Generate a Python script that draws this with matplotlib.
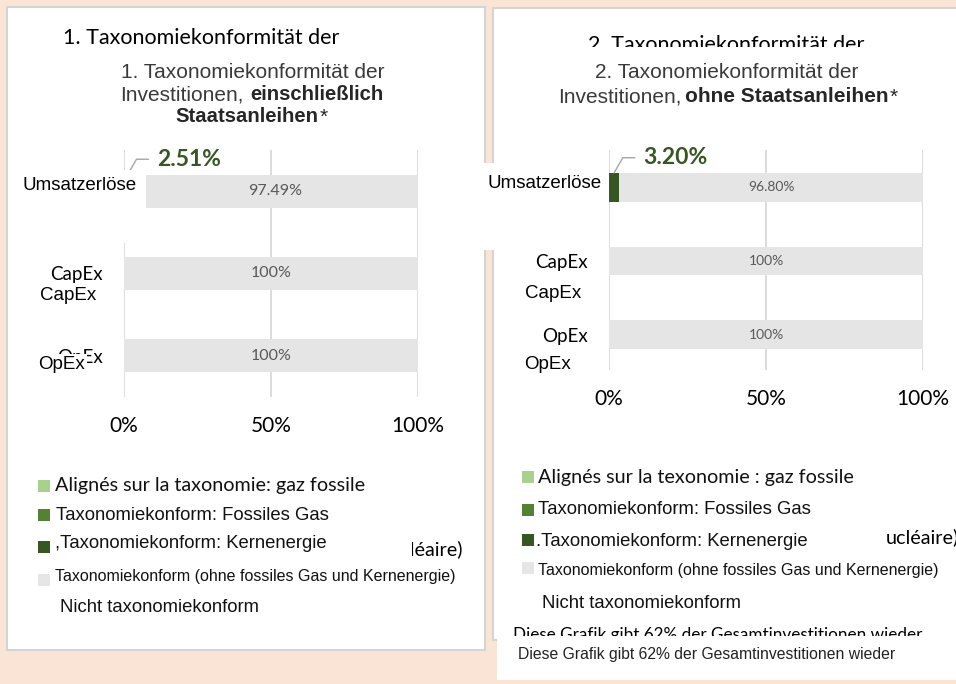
import matplotlib
matplotlib.use('Agg')
import matplotlib.pyplot as plt
from matplotlib.patches import Rectangle
from matplotlib.text import Annotation
from matplotlib.transforms import Bbox, TransformedBbox

W, H = 956, 684

# ---- data ----
categories = ['Umsatzerlöse', 'CapEx', 'OpEx']
nuclear_incl = [2.51, 0, 0]        # chart 1: einschließlich Staatsanleihen
other_incl = [97.49, 100, 100]
nuclear_excl = [3.20, 0, 0]        # chart 2: ohne Staatsanleihen
other_excl = [96.80, 100, 100]
x_ticks = [0, 50, 100]
x_tick_labels = ['0%', '50%', '100%']

legend_colors = ['#A9D18E', '#548235', '#375623', '#E7E6E6']
legend_left = ['Alignés sur la taxonomie: gaz fossile',
               'Taxonomiekonform: Fossiles Gas',
               ',Taxonomiekonform: Kernenergie',
               'Taxonomiekonform (ohne fossiles Gas und Kernenergie)',
               'Nicht taxonomiekonform']
legend_right = ['Alignés sur la texonomie : gaz fossile',
                'Taxonomiekonform: Fossiles Gas',
                '.Taxonomiekonform: Kernenergie',
                'Taxonomiekonform (ohne fossiles Gas und Kernenergie)',
                'Nicht taxonomiekonform']
footnote = 'Diese Grafik gibt 62% der Gesamtinvestitionen wieder'

CAL = ['Lato', 'DejaVu Sans']
ARIAL = ['Liberation Sans', 'DejaVu Sans']
PEACH = '#FAE4D6'
BORDER = '#D4D4D4'
GRID = '#D9D9D9'
BAR_GREY = '#E5E5E5'
DARK_GREEN = '#375623'
TITLE_GREY = '#3A3A3A'

fig = plt.figure(figsize=(W / 100, H / 100), dpi=100)
fig.patch.set_facecolor(PEACH)


def frect(x0, y0, x1, y1, fc, ec='none', lw=0, z=-1):
    fig.add_artist(Rectangle((x0 / W, 1 - y1 / H), (x1 - x0) / W, (y1 - y0) / H,
                             transform=fig.transFigure, facecolor=fc,
                             edgecolor=ec, linewidth=lw, zorder=z))


def ftext(x, y, s, font, size, color='black', weight='normal', ha='left',
          va='center', clip=None, **kw):
    t = fig.text(x / W, 1 - y / H, s, fontfamily=font, fontsize=size,
                 color=color, fontweight=weight, ha=ha, va=va, **kw)
    if clip:
        x0, y0, x1, y1 = clip
        bb = Bbox.from_extents(x0 / W, 1 - y1 / H, x1 / W, 1 - y0 / H)
        t.set_clip_box(TransformedBbox(bb, fig.transFigure))
        t.set_clip_on(True)
    return t


def star_after(t, size):
    # regular-weight asterisk right after a bold text
    fig.add_artist(Annotation('*', xy=(1, 0.5), xycoords=t, xytext=(1, 0),
                              textcoords='offset points', ha='left', va='center',
                              fontfamily=ARIAL, fontsize=size, color='#262626'))


def fmt(v):
    return f'{v:.2f}%' if v % 1 else f'{v:.0f}%'


def draw_chart(box, nuclear, other, bar_h, ylim, val_size):
    x0, y0, x1, y1 = box
    ax = fig.add_axes([x0 / W, 1 - y1 / H, (x1 - x0) / W, (y1 - y0) / H])
    ax.patch.set_visible(False)
    ypos = list(range(len(categories)))
    ax.barh(ypos, nuclear, height=bar_h, color=DARK_GREEN)
    ax.barh(ypos, other, left=nuclear, height=bar_h, color=BAR_GREY)
    ax.set_xlim(0, 100)
    ax.set_ylim(*ylim)
    ax.set_xticks(x_ticks, x_tick_labels, fontfamily=CAL, fontsize=15)
    ax.set_yticks(ypos, categories, fontfamily=CAL, fontsize=13.5)
    # first label is hidden behind the Arial overlay in the original
    ax.get_yticklabels()[0].set_visible(False)
    ax.tick_params(axis='x', length=0, pad=14)
    ax.tick_params(axis='y', length=0, pad=15)
    ax.grid(axis='x', color=GRID, linewidth=1.3)
    ax.grid(axis='y', visible=False)
    ax.set_axisbelow(True)
    for s in ax.spines.values():
        s.set_visible(False)
    for i in ypos:
        ax.text(nuclear[i] + other[i] / 2, i, fmt(other[i]), ha='center',
                va='center', fontfamily=CAL, fontsize=val_size, color='#595959')
        if nuclear[i] > 0:
            ax.annotate(fmt(nuclear[i]), xy=(nuclear[i] / 2, i - bar_h / 2),
                        xytext=(21, 11), textcoords='offset points',
                        ha='left', va='center', fontfamily=CAL, fontsize=16.5,
                        fontweight='bold', color=DARK_GREEN,
                        arrowprops=dict(arrowstyle='-', color='#A6A6A6', lw=1,
                                        relpos=(0, 0.5), shrinkA=4, shrinkB=0,
                                        connectionstyle='angle,angleA=0,angleB=60,rad=0'))
    return ax


# ---- panels ----
frect(7, 7, 485, 650, 'white', BORDER, 1.5, z=-2)
frect(493, 8, 962, 640, 'white', BORDER, 1.5, z=-2)
frect(497, 600, 960, 680, 'white', z=-1)

# ---- charts ----
draw_chart((124, 150, 418, 397), nuclear_incl, other_incl, 0.4,
           (2.497, -0.497), 11.5)
draw_chart((609, 150, 923, 370), nuclear_excl, other_excl, 0.39,
           (2.48, -0.507), 10)

# white overlays hiding parts of the charts / panel borders
frect(18, 170, 146, 243, 'white', z=1)
frect(478, 163, 500, 250, 'white', z=1)

# ---- titles, chart 1 ----
TS = 15
TB = 14.6
ftext(63, 38, '1. Taxonomiekonformität der', CAL, 15.5)
ftext(253, 72, '1. Taxonomiekonformität der', ARIAL, TS, TITLE_GREY, ha='center')
ftext(244, 95, 'Investitionen,', ARIAL, TS, TITLE_GREY, ha='right')
ftext(250, 95, 'einschließlich', ARIAL, TB, '#262626', 'bold')
t = ftext(175, 117, 'Staatsanleihen', ARIAL, TB, '#262626', 'bold')
star_after(t, TS)

# ---- titles, chart 2 ----
ftext(588, 51, '2. Taxonomiekonformität der', CAL, 15.5, va='baseline',
      clip=(493, 0, 956, 47))
ftext(727, 72, '2. Taxonomiekonformität der', ARIAL, TS, TITLE_GREY, ha='center')
ftext(681, 97, 'Investitionen,', ARIAL, TS, TITLE_GREY, ha='right')
t = ftext(685, 97, 'ohne Staatsanleihen', ARIAL, TS, '#262626', 'bold')
star_after(t, TS)

# ---- duplicated category labels (Arial) ----
white_box = dict(facecolor='white', edgecolor='none', pad=1.5)
for cat, xr, yc in zip(categories, [137, 96, 85], [185, 295, 365]):
    ftext(xr, yc, cat, ARIAL, 13.5, ha='right', bbox=white_box)
for cat, xr, yc in zip(categories, [602, 581, 571], [183, 294, 365]):
    ftext(xr, yc, cat, ARIAL, 13.5, ha='right', bbox=white_box)

# ---- legends ----
fonts = [(CAL, 14.2), (ARIAL, 13.3), (ARIAL, 13.3), (ARIAL, 11.5), (ARIAL, 13.3)]

# left legend
sq_y = [486, 515, 547, 580]
txt_y = [485, 516, 544, 576, 607]
txt_x = [55, 56, 55, 55, 60]
for c, y in zip(legend_colors, sq_y):
    frect(38, y - 6, 50, y + 6, c, z=1)
for lab, (fnt, sz), x, y in zip(legend_left, fonts, txt_x, txt_y):
    ftext(x, y, lab, fnt, sz, '#111111')
ftext(463, 549, '(nucléaire)', CAL, 14.2, ha='right', clip=(412, 530, 470, 570))

# right legend
sq_y = [477, 510, 540, 568]
txt_y = [477, 510, 541, 570, 603]
txt_x = [538, 538, 536, 538, 542]
for c, y in zip(legend_colors, sq_y):
    frect(522, y - 6, 534, y + 6, c, z=1)
for lab, (fnt, sz), x, y in zip(legend_right, fonts, txt_x, txt_y):
    ftext(x, y, lab, fnt, sz, '#111111')
ftext(886, 537, 'ucléaire)', CAL, 14.2)

# footnotes
ftext(513, 640, footnote, CAL, 12.3, va='baseline', clip=(493, 600, 956, 636))
ftext(518, 655, footnote, ARIAL, 11.3, '#222222')

fig.savefig('out.png', dpi=100, facecolor=PEACH)
